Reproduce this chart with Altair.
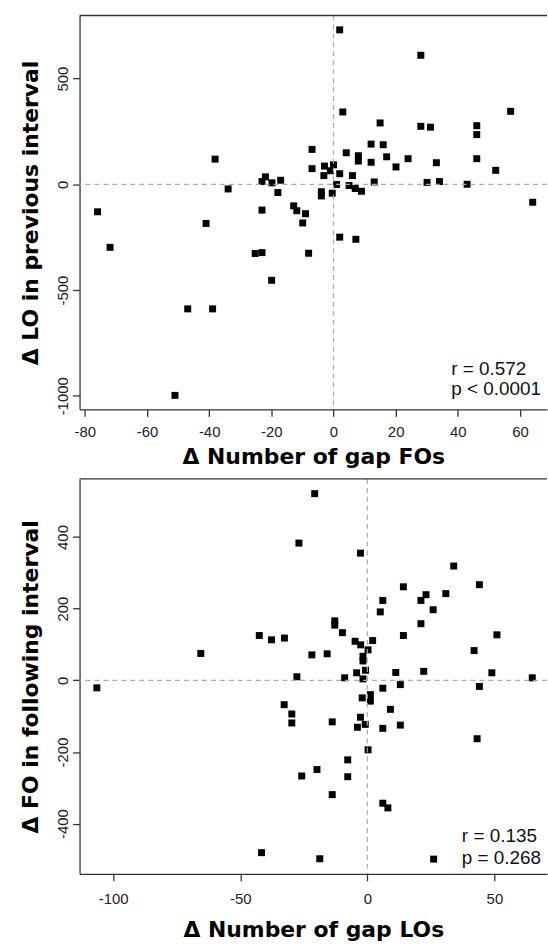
import altair as alt
import pandas as pd

# ---------------- data ----------------
top_x = [-75.9, -71.9, -51, -46.9, -38.9, -41, -38.1, -33.9, -25.2, -23, -23, -23, -21.9,
         -19.8, -19.9, -17.9, -17, -12.8, -11.8, -9, -9.9, -8, -6.9, -6.9, -3.9, -3.9, -0.4,
         -2.9, 0, -1, -3.1, 2, 1, 2.0, 3.0, 2, 4.1, 5, 6.1, 7, 7.2, 8, 8, 9, 12.1, 12.1, 13.1,
         15, 16, 17.1, 20.1, 24, 28.1, 28.1, 31.2, 30.1, 33.1, 34.1, 43, 46.1, 46.1, 46.1,
         52.2, 57, 64.1]
top_y = [-130, -298, -998, -589, -589, -185, 119, -22, -327, -323, -122, 13, 35,
         7, -454, -39, 19, -102, -125, -139, -183, -326, 165, 74, -35, -55, -42,
         86, 92, 64, 41, 50, -1, 730, 342, -250, 149, -6, 41, -20, -260, 135, 110, -33, 190, 104, 11,
         290, 187, 130, 82, 121, 610, 274, 270, 9, 102, 13, 0, 277, 235, 121,
         66, 345, -85]

bot_x = [-106.4, -65.5, -42.5, -41.6, -37.7, -32.6, -32.7, -29.7, -29.7, -27.7, -26.9, -25.8,
         -21.8, -20.7, -19.8, -18.7, -15.8, -13.8, -13.8, -12.8, -12.8, -9.8, -8.9, -7.7, -7.7,
         -4.8, -4.2, -3.9, -2.7, -2.6, -2.7, -2, -1.7, -1.7, -1.7, -0.7, -0.8, 0.3, 0.3, 1.2, 1.2,
         2.1, 5.1, 6.1, 6.1, 6.1, 6.1, 8.1, 9.1, 11.2, 13, 13, 14.2, 14.2, 21.1, 21.1, 22.2, 23.1,
         25.9, 26.1, 30.9, 34, 42, 43.2, 44.1, 44.1, 49, 51, 64.9]
bot_y = [-21, 75, 125, -481, 113, 118, -68, -94, -119, 10, 383, -267,
         71, 521, -249, -498, 74, -116, -319, 166, 154, 133, 7, -222, -269,
         109, 21, -131, 355, 99, -103, -49, 67, 54, 4, 28, -123, 85, -194, -40, -58,
         111, 191, 223, -22, -134, -343, -356, -81, 22, -12, -125, 261, 125, 223, 158, 25, 239,
         197, -499, 242, 319, 83, -163, 267, -17, 21, 127, 7]

top_ticks_x = [-80, -60, -40, -20, 0, 20, 40, 60]
top_ticks_y = [-1000, -500, 0, 500]
bot_ticks_x = [-100, -50, 0, 50]
bot_ticks_y = [-400, -200, 0, 200, 400]

top_domain_x = [-81.7, 68.7]
top_domain_y = [-1064, 798]
bot_domain_x = [-113.2, 70.7]
bot_domain_y = [-540, 562]

top_stats = ["r = 0.572", "p < 0.0001"]
top_stats_x = [37.9, 37.9]
top_stats_y = [-900, -998]
bot_stats = ["r = 0.135", "p = 0.268"]
bot_stats_x = [37.2, 37.2]
bot_stats_y = [-452, -512]

W = 470
H_TOP = 396
H_BOT = 397
AXIS_COLOR = "#333333"


def panel(xs, ys, xdom, ydom, xticks, yticks, xtitle, ytitle,
          stats, sx, sy, height, x_label_pad, x_title_pad):
    df = pd.DataFrame({"x": xs, "y": ys})
    sdf = pd.DataFrame({"x": sx, "y": sy, "t": stats})
    one = pd.DataFrame({"z": [0]})

    xscale = alt.Scale(domain=xdom, nice=False, zero=False)
    yscale = alt.Scale(domain=ydom, nice=False, zero=False)

    xaxis = alt.Axis(values=xticks, title=xtitle, grid=False,
                     labelExpr="'' + datum.value", labelOverlap=False, labelFlush=False,
                     tickSize=7, tickWidth=1.3, tickColor=AXIS_COLOR,
                     domainColor=AXIS_COLOR, domainWidth=1.3,
                     labelFont="Liberation Sans", labelFontSize=15, labelColor="#222222",
                     labelPadding=x_label_pad,
                     titleFont="DejaVu Sans", titleFontSize=22, titleFontWeight="bold",
                     titleColor="#000000", titlePadding=x_title_pad)
    yaxis = alt.Axis(values=yticks, title=ytitle, grid=False,
                     labelExpr="'' + datum.value", labelOverlap=False, labelFlush=False,
                     labelAngle=270, labelAlign="center", labelBaseline="bottom",
                     tickSize=7, tickWidth=1.3, tickColor=AXIS_COLOR,
                     domainColor=AXIS_COLOR, domainWidth=1.3,
                     labelFont="Liberation Sans", labelFontSize=15, labelColor="#222222",
                     labelPadding=2,
                     titleFont="DejaVu Sans", titleFontSize=22, titleFontWeight="bold",
                     titleColor="#000000", titlePadding=13,
                     titleAngle=270, titleAlign="center", titleBaseline="bottom")

    base = alt.Chart(df)
    pts = base.mark_square(size=49, color="black", opacity=1).encode(
        x=alt.X("x:Q", scale=xscale, axis=xaxis),
        y=alt.Y("y:Q", scale=yscale, axis=yaxis),
    )
    vline = alt.Chart(one).mark_rule(color="#aaaaaa", strokeDash=[5, 4], strokeWidth=1.2).encode(
        x=alt.X(datum=0))
    hline = alt.Chart(one).mark_rule(color="#aaaaaa", strokeDash=[5, 4], strokeWidth=1.2).encode(
        y=alt.Y(datum=0))
    topline = alt.Chart(one).mark_rule(color=AXIS_COLOR, strokeWidth=1.3).encode(
        x=alt.value(0), x2=alt.value(W), y=alt.value(0))
    txt = alt.Chart(sdf).mark_text(align="left", baseline="alphabetic", font="Liberation Sans",
                                   fontSize=19, color="#111111").encode(
        x=alt.X("x:Q"), y=alt.Y("y:Q"), text="t:N")

    return alt.layer(pts, vline, hline, topline, txt).properties(width=W, height=height)


top = panel(top_x, top_y, top_domain_x, top_domain_y, top_ticks_x, top_ticks_y,
            "Δ Number of gap FOs", "Δ LO in previous interval",
            top_stats, top_stats_x, top_stats_y, H_TOP, 8, 7)
bot = panel(bot_x, bot_y, bot_domain_x, bot_domain_y, bot_ticks_x, bot_ticks_y,
            "Δ Number of gap LOs", "Δ FO in following interval",
            bot_stats, bot_stats_x, bot_stats_y, H_BOT, 11, 13)

chart = alt.vconcat(top, bot, spacing=11).properties(
    padding={"left": 19, "top": 12, "right": 0, "bottom": 0},
    background="white",
).configure_view(stroke=None)

chart.save("out.html", embed_options={"renderer": "svg", "actions": False})
